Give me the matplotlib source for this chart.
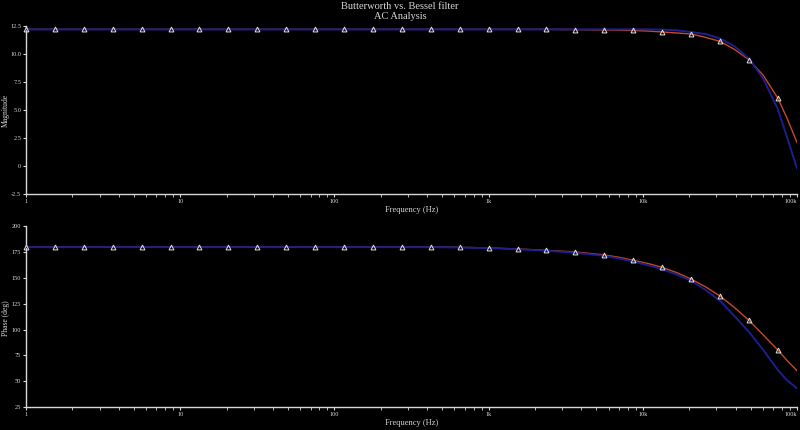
import matplotlib
matplotlib.use("Agg")
import matplotlib.pyplot as plt
from matplotlib.ticker import FixedLocator, NullFormatter

# frequency grid (Hz) shared by both filters
freq = [1, 1.54, 2.37, 3.65, 5.62, 8.66, 13.3, 20.5, 31.6, 48.7, 75.0,
        115, 178, 274, 422, 649, 1000, 1540, 2371, 3652, 5623, 6978,
        8660, 10746, 13335, 16548, 20535, 25483, 31623, 39242, 48697,
        60430, 74989, 86000, 100000]
# indices of the points carrying a triangle marker
mark_idx = list(range(0, 21)) + [22, 24, 26, 28, 30, 32]

# magnitude
bessel_mag = [12.2] * 18 + [12.2, 12.18, 12.15, 12.13, 12.1, 12.05, 11.97,
                            11.88, 11.79, 11.49, 11.13, 10.42, 9.5, 8.1,
                            6.07, 4.3, 2.1]
butter_mag = [12.2] * 18 + [12.2, 12.2, 12.2, 12.2, 12.2, 12.2, 12.18,
                            12.12, 11.96, 11.79, 11.4, 10.7, 9.6, 7.8,
                            5.1, 2.6, -0.2]

# phase
bessel_ph = [180] * 15 + [179.8, 179.2, 178.2, 176.9, 175.3, 172.4, 170.2,
                          167.2, 164.2, 160.4, 155.3, 149.1, 141.5, 132.6,
                          121.5, 109.1, 94.8, 80.3, 70.3, 60.2]
butter_ph = [180] * 15 + [179.7, 179.0, 177.9, 176.5, 174.6, 171.5, 169.0,
                          166.0, 162.5, 158.5, 153.5, 147.4, 138.5, 128.1,
                          113.2, 98.0, 80.3, 61.0, 51.0, 43.1]

dec_ticks = [1, 10, 100, 1000, 10000, 100000]
dec_labels = ['1', '10', '100', '1k', '10k', '100k']
minor = [m * d for d in dec_ticks[:-1] for m in range(2, 10)]

plt.rcParams['font.family'] = ['Liberation Serif', 'DejaVu Serif']
FG = '#d8d8d8'
BLUE = '#1e1e8c'
RED = '#c24a26'

fig = plt.figure(figsize=(8, 4.3), dpi=100, facecolor='black')
axA = fig.add_axes([0.0325, 0.5488, 0.96375, 0.3907])
axB = fig.add_axes([0.0325, 0.0535, 0.96375, 0.4198])

panels = [
    (axA, bessel_mag, butter_mag, 'Magnitude', (-2.5, 12.5),
     [-2.5, 0, 2.5, 5, 7.5, 10, 12.5],
     ['-2.5', '0', '2.5', '5.0', '7.5', '10.0', '12.5']),
    (axB, bessel_ph, butter_ph, 'Phase (deg)', (25, 200),
     [25, 50, 75, 100, 125, 150, 175, 200],
     ['25', '50', '75', '100', '125', '150', '175', '200']),
]

for ax, red, blue, ylabel, ylim, yt, ytl in panels:
    ax.set_facecolor('black')
    ax.plot(freq, red, color=RED, linewidth=1.0, zorder=2)
    ax.plot(freq, blue, color=BLUE, linewidth=1.4, zorder=3)
    ax.plot([freq[i] for i in mark_idx], [red[i] for i in mark_idx],
            linestyle='none', marker='^', markersize=3.5,
            markerfacecolor='none', markeredgecolor='#e0e0e0',
            markeredgewidth=0.7, zorder=4, clip_on=False)
    ax.set_xscale('log')
    ax.set_xlim(1, 100000)
    ax.set_ylim(*ylim)
    ax.xaxis.set_major_locator(FixedLocator(dec_ticks))
    ax.xaxis.set_minor_locator(FixedLocator(minor))
    ax.xaxis.set_minor_formatter(NullFormatter())
    ax.set_xticklabels(dec_labels)
    ax.set_yticks(yt)
    ax.set_yticklabels(ytl)
    for s in ['top', 'right']:
        ax.spines[s].set_visible(False)
    for s in ['left', 'bottom']:
        ax.spines[s].set_color(FG)
        ax.spines[s].set_linewidth(1.0)
    ax.tick_params(which='major', colors=FG, labelsize=4.5, length=2.5,
                   width=0.8, pad=1)
    ax.tick_params(which='minor', colors=FG, length=2, width=0.6)
    ax.xaxis.get_majorticklabels()[-1].set_horizontalalignment('right')
    ax.set_xlabel('Frequency (Hz)', color=FG, fontsize=6, labelpad=1.5)

fig.text(0.007, 0.744, 'Magnitude', color=FG, fontsize=5.5, rotation=90,
         ha='center', va='center')
fig.text(0.007, 0.26, 'Phase (deg)', color=FG, fontsize=5.5, rotation=90,
         ha='center', va='center')
fig.text(0.5, 0.995, 'Butterworth vs. Bessel filter\nAC Analysis',
         color=FG, fontsize=7.5, ha='center', va='top', linespacing=1.1)

fig.savefig('out.png', dpi=100, facecolor='black')
